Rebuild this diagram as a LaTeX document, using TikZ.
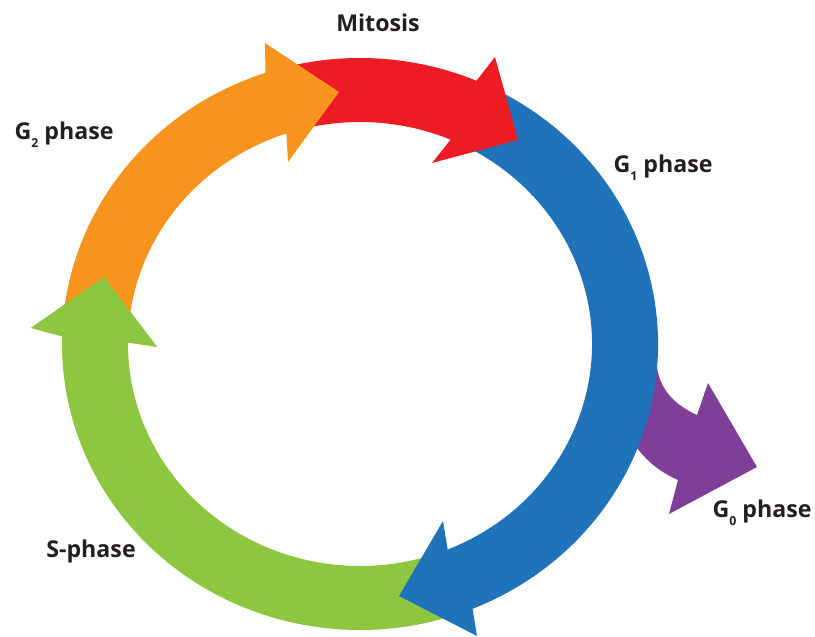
\documentclass[tikz,border=0pt]{standalone}
\usepackage{fontspec}
\setsansfont{Open Sans}
\usepackage{xcolor}
\usepackage{tikz}

\definecolor{phaseorange}{HTML}{F7941D}
\definecolor{phasered}{HTML}{ED1C24}
\definecolor{phaseblue}{HTML}{1F73BA}
\definecolor{phasegreen}{HTML}{8DC63F}
\definecolor{phasepurple}{HTML}{7F3F98}
\definecolor{labeltext}{HTML}{231F20}
\newcommand{\phsub}[1]{\raisebox{-4.6pt}{\fontsize{7}{8}\selectfont #1}}

\begin{document}
\begin{tikzpicture}[x=0.02cm, y=-0.02cm,
    phase/.style={font=\sffamily\bfseries\fontsize{13.2}{15}\selectfont, text=labeltext, anchor=base, inner sep=0pt}]
  \useasboundingbox (0,0) rectangle (815,636);

  % arrow heads (barb outside, tip, barb inside)
  \coordinate (Gr-out) at (31,328);  \coordinate (Gr-tip) at (104,277); \coordinate (Gr-in) at (157,347);
  \coordinate (Bl-out) at (477,636); \coordinate (Bl-tip) at (399,596); \coordinate (Bl-in) at (443,521);
  \coordinate (Rd-out) at (495,57);  \coordinate (Rd-tip) at (518,140); \coordinate (Rd-in) at (432,163);
  \coordinate (Or-out) at (265,43);  \coordinate (Or-tip) at (339,92);  \coordinate (Or-in) at (288,162);

  % G0 branch, under the blue one
  \fill[phasepurple] (620,370) -- (657,367) .. controls (660,390) and (675,405) .. (697,415)
    -- (708,383) -- (757,467) -- (669,514) -- (678,480)
    .. controls (660,472) and (648,462) .. (637,448) -- (610,440) -- cycle;

  % the ring
  \begin{scope}[shift={(360,344)}]
    \foreach \col/\s/\e/\ph in {phasegreen/72/181.5/Gr, phaseblue/-62/67.8/Bl,
                                phasered/255/293/Rd, phaseorange/185/251.5/Or}
      \fill[\col] (\s:298 and 286) arc[start angle=\s, end angle=\e, x radius=298, y radius=286]
        -- (\ph-out) -- (\ph-tip) -- (\ph-in)
        -- (\e:232 and 222) arc[start angle=\e, end angle=\s, x radius=232, y radius=222] -- cycle;
  \end{scope}
  % green head goes over the orange tail
  \fill[phasegreen] (Gr-out) -- (Gr-tip) -- (Gr-in) -- cycle;

  \node[phase] (mitosis) at (378,31) {Mitosis};
  \node[phase] (g2) at (64,139) {G\phsub{2} phase};
  \node[phase] (g1) at (663,172) {G\phsub{1} phase};
  \node[phase] (g0) at (762,517) {G\phsub{0} phase};
  \node[phase] (sph) at (91,557) {S-phase};
\end{tikzpicture}
\end{document}
